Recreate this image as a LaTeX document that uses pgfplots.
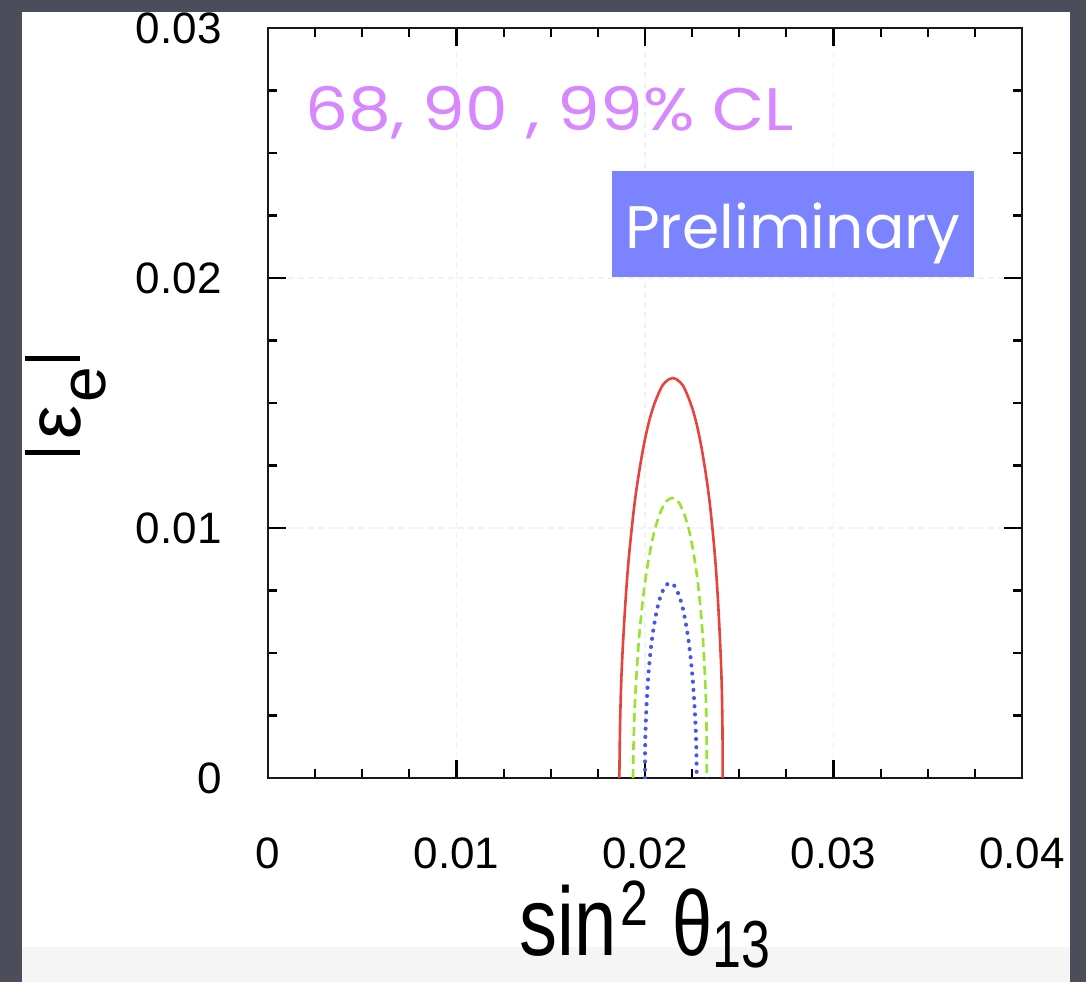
\documentclass[border=0pt]{standalone}
\usepackage{pgfplots}
\pgfplotsset{compat=1.18}
\usepackage{fontspec}
\setmainfont{Liberation Sans}
\newfontfamily\comic{Poppins}
\definecolor{bgdark}{RGB}{75,78,90}
\definecolor{clviolet}{RGB}{215,135,255}
\definecolor{prelblue}{RGB}{123,131,255}
\definecolor{cred}{RGB}{228,68,60}
\definecolor{cgreen}{RGB}{150,228,50}
\definecolor{cblue}{RGB}{70,84,240}
\begin{document}
\begin{tikzpicture}
\useasboundingbox (0,0) rectangle (543pt,491pt);
\fill[bgdark] (0,0) rectangle (543pt,491pt);
\fill[white] (11pt,0) rectangle (535pt,485pt);
\fill[black!4] (11pt,0) rectangle (535pt,17.5pt);
\begin{axis}[
  at={(134pt,102pt)}, anchor=south west,
  scale only axis, width=377pt, height=375pt,
  xmin=0, xmax=0.04, ymin=0, ymax=0.03,
  xtick={0,0.01,0.02,0.03,0.04}, ytick={0,0.01,0.02,0.03},
  xticklabels={0,0.01,0.02,0.03,0.04}, yticklabels={0,0.01,0.02,0.03},
  scaled ticks=false,
  minor tick num=3,
  tick align=inside, xtick pos=both, ytick pos=both,
  major tick length=9pt, minor tick length=4.5pt,
  every tick/.style={black, line width=1.1pt},
  axis line style={line width=1.3pt, black!90},
  grid=major, major grid style={black!5, dash pattern=on 3pt off 2pt, line width=0.8pt},
  /pgf/number format/assume math mode=true,
  tick label style={font=\fontsize{22}{22}\selectfont, inner sep=0pt},
  xticklabel style={anchor=base, yshift=-45pt},
  yticklabel style={anchor=east, xshift=-23pt},
  xlabel={\scalebox{1}[1.28]{\fontsize{38}{38}\selectfont sin\hspace{2pt}\raisebox{12pt}{\fontsize{25}{25}\selectfont 2}\hspace{12pt}{\fontsize{36}{36}\selectfont θ}\raisebox{-4.5pt}{\fontsize{26}{26}\selectfont 13}}},
  xlabel style={at={(axis description cs:0.5,-0.2373)}, anchor=base, inner sep=0pt},
  ylabel={\rule{2.5pt}{27.5pt}\hspace{5pt}{\fontsize{38}{38}\selectfont ε}\hspace{2pt}\raisebox{-12.6pt}{\fontsize{32}{32}\selectfont e}\hspace{3pt}\rule{2.5pt}{27.5pt}},
  ylabel style={at={(axis description cs:-0.2493,0.497)}, anchor=base, inner sep=0pt},
]
\addplot[cred, line width=1.3pt, smooth, tension=0.6] coordinates {
(0.01864,0) (0.018685,0.0024) (0.018793,0.0048) (0.019052,0.008) (0.019357,0.0104) (0.019637,0.012) (0.020013,0.0136) (0.020389,0.01472) (0.020801,0.01552) (0.021083,0.01584) (0.02147,0.016) (0.021855,0.01584) (0.022133,0.01552) (0.022537,0.01472) (0.022901,0.0136) (0.023259,0.012) (0.023521,0.0104) (0.023798,0.008) (0.024021,0.0048) (0.024103,0.0024) (0.02412,0)
};
\addplot[cgreen, line width=1.3pt, dash pattern=on 4.5pt off 2.5pt, smooth, tension=0.6] coordinates {
(0.019363,0) (0.019403,0.00168) (0.019489,0.00336) (0.019685,0.0056) (0.019910,0.00728) (0.020116,0.0084) (0.020390,0.00952) (0.020662,0.010304) (0.020959,0.010864) (0.021162,0.011088) (0.021438,0.0112) (0.021714,0.011088) (0.021909,0.010864) (0.022194,0.010304) (0.022450,0.00952) (0.022700,0.0084) (0.022882,0.00728) (0.023071,0.0056) (0.023219,0.00336) (0.023269,0.00168) (0.023273,0)
};
\addplot[cblue, line width=2pt, line cap=round, dash pattern=on 0.1pt off 4pt, smooth, tension=0.6] coordinates {
(0.0200,0) (0.020008,0.00117) (0.020048,0.00234) (0.020159,0.0039) (0.020296,0.00507) (0.020427,0.00585) (0.020606,0.00663) (0.020788,0.007176) (0.020990,0.007566) (0.021130,0.007722) (0.021322,0.0078) (0.021516,0.007722) (0.021656,0.007566) (0.021864,0.007176) (0.022052,0.00663) (0.022241,0.00585) (0.022382,0.00507) (0.022535,0.0039) (0.022666,0.00234) (0.022722,0.00117) (0.022743,0)
};
\node[anchor=base west, inner sep=0pt, text=clviolet, font=\comic\fontsize{30}{30}\selectfont] at (axis cs:0.00196,0.02592) {\scalebox{1.13}[1]{68, 90 , 99\% CL}};
\fill[prelblue] (axis cs:0.018249,0.02004) rectangle (axis cs:0.037454,0.02428);
\node[anchor=base, inner sep=0pt, text=white, font=\comic\fontsize{30}{30}\selectfont] at (axis cs:0.027851,0.0212) {Preliminary};
\end{axis}
\end{tikzpicture}
\end{document}
